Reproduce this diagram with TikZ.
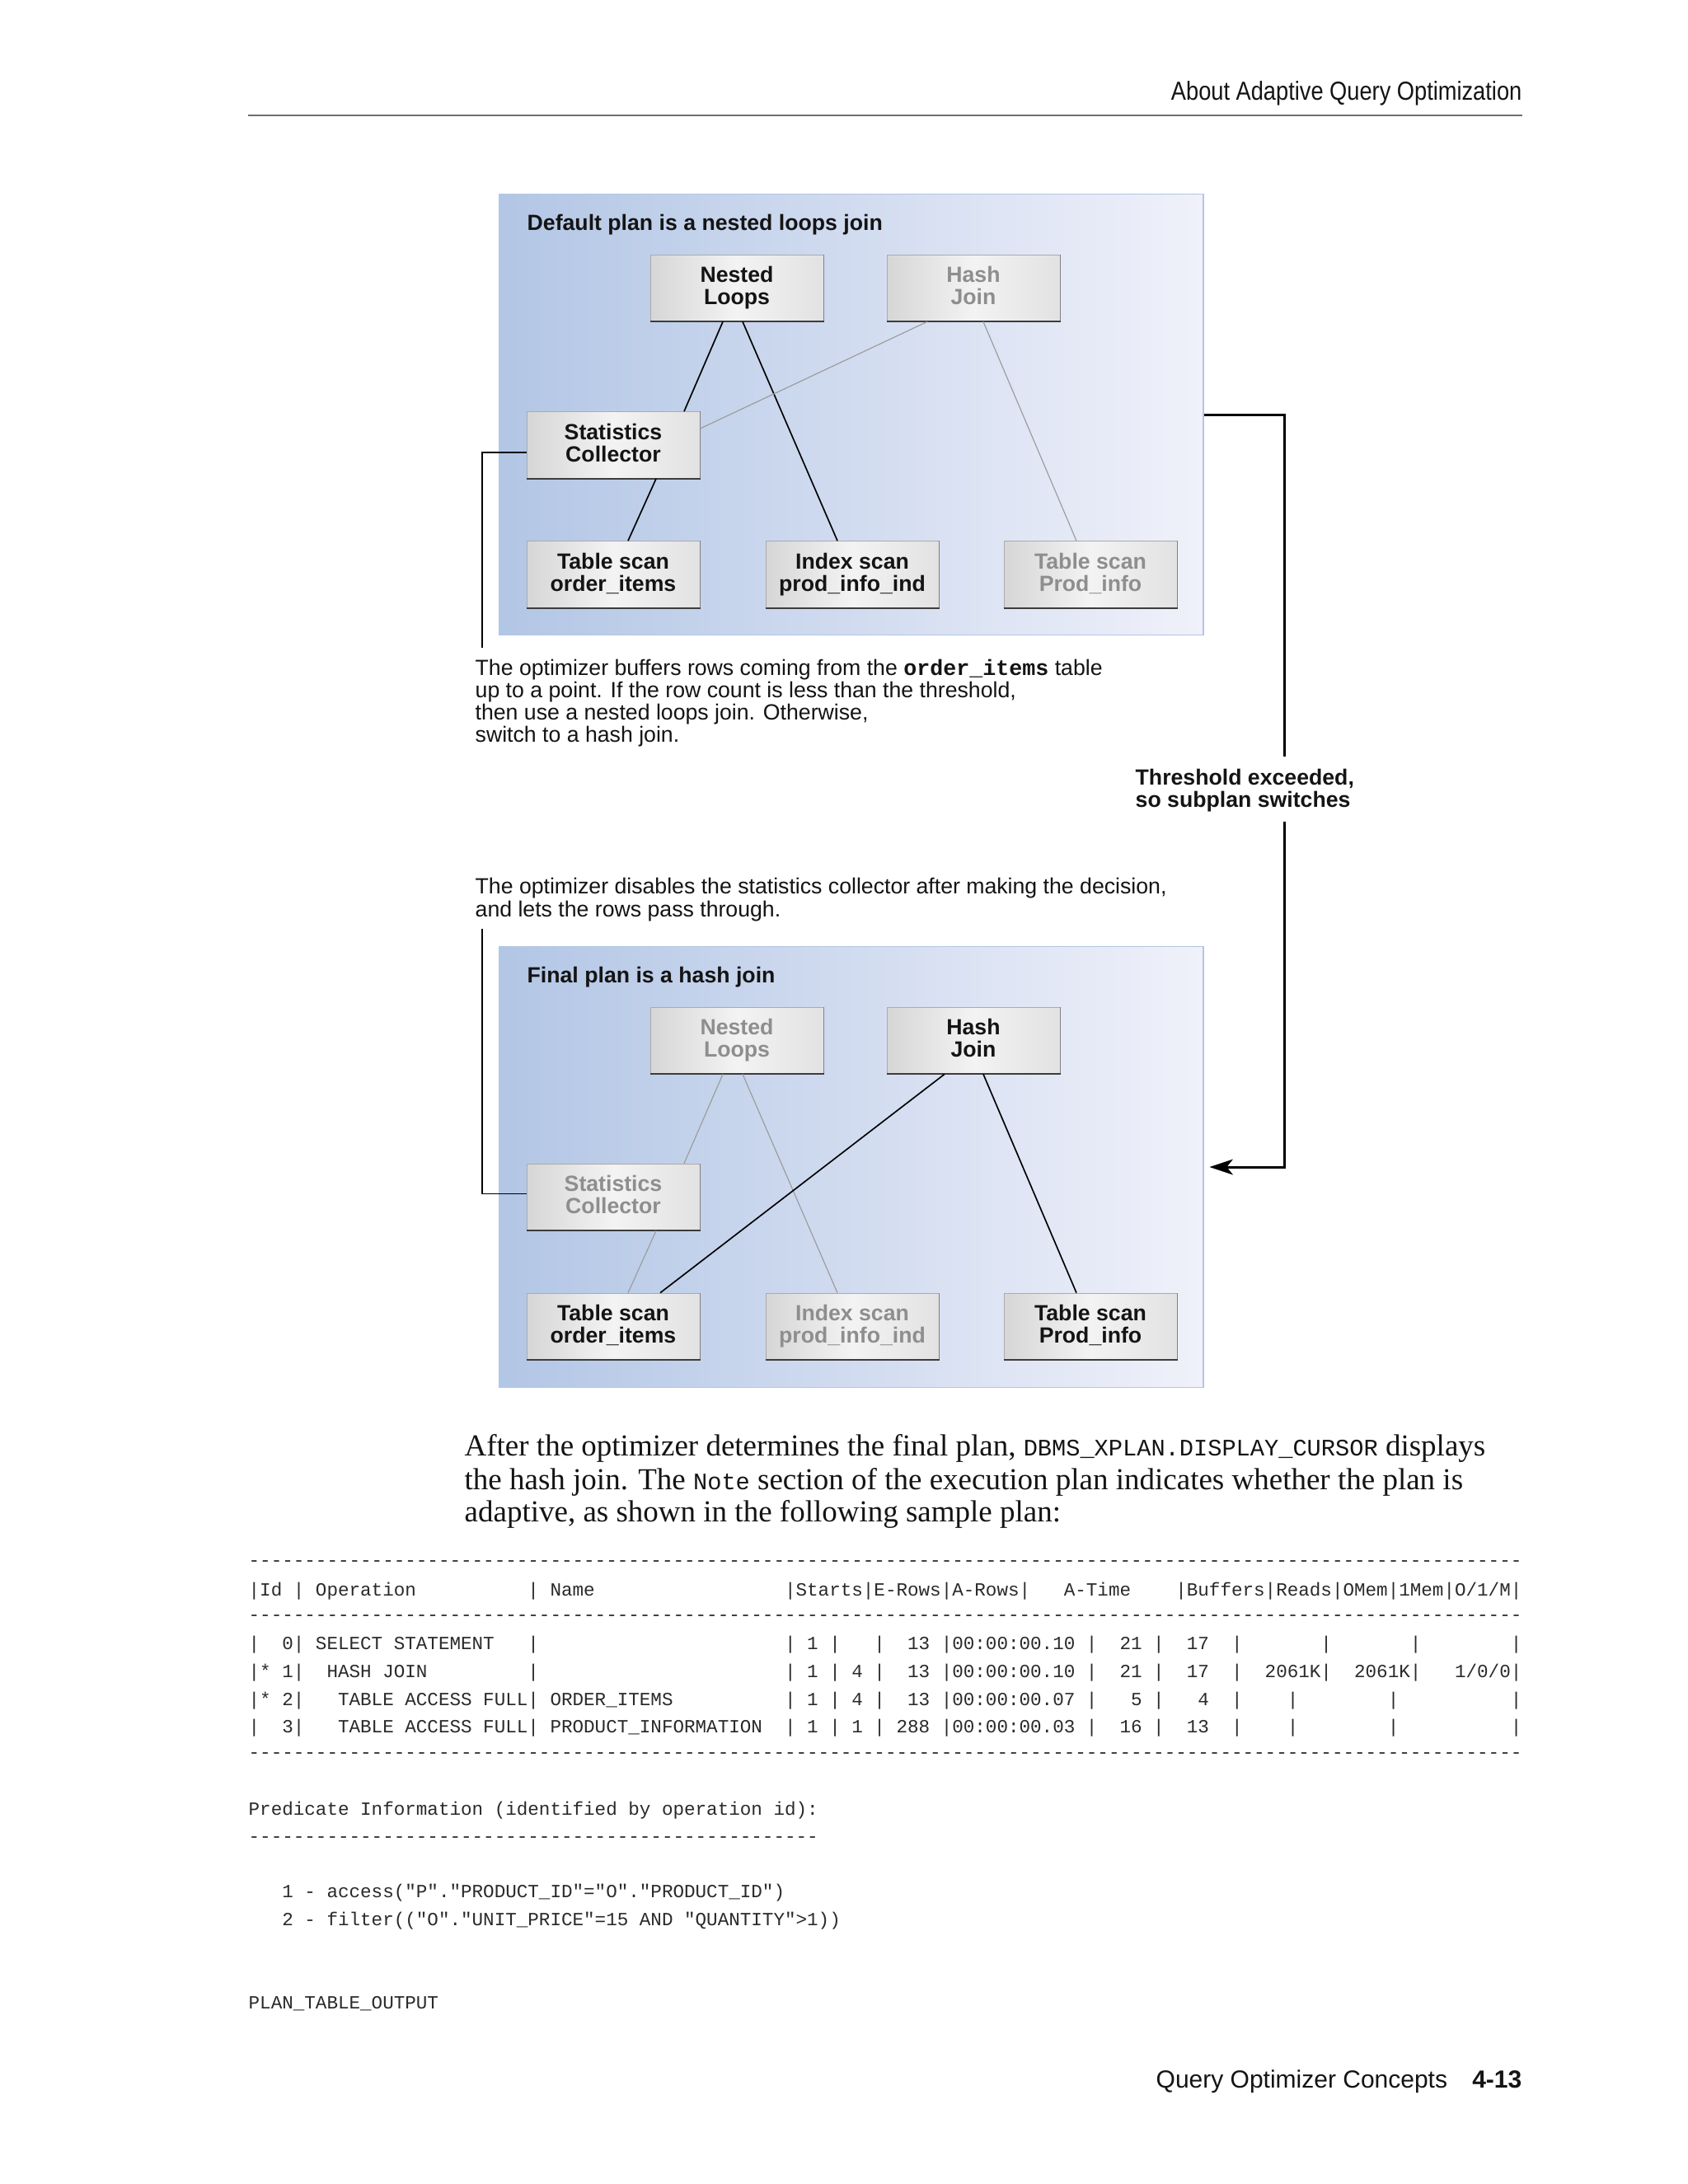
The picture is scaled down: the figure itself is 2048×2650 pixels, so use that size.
\documentclass[tikz,border=0pt]{standalone}
\usepackage{fontspec}
\setmainfont{Liberation Serif}
\newfontfamily\hsans{Liberation Sans}
\newfontfamily\hnarrow[FakeStretch=0.86]{Liberation Sans}
\newfontfamily\tmono{Liberation Mono}
\usetikzlibrary{arrows.meta,calc}
\definecolor{panelL}{HTML}{B2C6E5}
\definecolor{panelR}{HTML}{F0F1FA}
\definecolor{panelB}{HTML}{B3C6E4}
\definecolor{boxL}{HTML}{D6D6D6}
\definecolor{boxM}{HTML}{F3F3F3}
\definecolor{boxR}{HTML}{E2E2E2}
\definecolor{boxB}{HTML}{ABABAB}
\definecolor{boxE}{HTML}{3C3C3C}
\definecolor{boxRE}{HTML}{808080}
\definecolor{txtOn}{HTML}{141414}
\definecolor{txtOff}{HTML}{8E8E8E}
\definecolor{lineOff}{HTML}{9C9C9C}
\definecolor{ruleC}{HTML}{6E6E6E}
\definecolor{monoC}{HTML}{2A2A2A}
\newcommand\pmono[1]{{\tmono\fontsize{8.6}{12}\selectfont #1}}
\newcommand\dmono[1]{{\tmono\bfseries\fontsize{8}{8.1}\selectfont #1}}
\newcommand\bxl[2]{#1\vphantom{Jp}\\#2\vphantom{Jp}}
\newcommand\tabrow[3]{\foreach \cc/\tx in {#3} {\node[tab, name=#1-\cc] at ({301+\cc*13.55},#2) {\tx};}}
\newcommand\dashrow[3]{\node[tab, name=#1] at (301,#2) {\foreach \i in {1,...,#3}{-}};}
\begin{document}
\begin{tikzpicture}[x=0.3pt,y=-0.3pt,
  panel/.style={draw=panelB, line width=0.45pt, left color=panelL, right color=panelR,
    minimum width=256.2pt, minimum height=160.6pt, inner sep=0pt},
  pbox/.style={draw=boxB, line width=0.3pt, left color=boxL, right color=boxR, middle color=boxM,
    minimum width=63pt, minimum height=24.2pt, inner sep=0pt, align=center,
    font=\hsans\bfseries\fontsize{8}{8.1}\selectfont},
  on/.style={text=txtOn},
  off/.style={text=txtOff},
  lineon/.style={draw=black, line width=0.5pt},
  lineoff/.style={draw=lineOff, line width=0.35pt},
  brk/.style={draw=black, line width=0.5pt},
  brkR/.style={draw=black, line width=0.9pt},
  lbl/.style={inner sep=0pt, anchor=base west},
  dtext/.style={lbl, text=txtOn, font=\hsans\fontsize{8}{8.1}\selectfont},
  dtitle/.style={lbl, text=txtOn, font=\hsans\bfseries\fontsize{8}{8.1}\selectfont},
  tab/.style={lbl, text=monoC, font=\tmono\fontsize{6.775}{8}\selectfont},
  para/.style={lbl, text=txtOn, font=\fontsize{11.1}{12}\selectfont}
]
\fill[white] (0,0) rectangle (2048,2650);
\useasboundingbox (0,0) rectangle (2048,2650);

% page header
\node[lbl, anchor=base east, text=txtOn, font=\hnarrow\fontsize{9.5}{11}\selectfont] (hdr) at (1847,121) {About Adaptive Query Optimization};
\coordinate (ruleA) at (301,140);
\coordinate (ruleB) at (1847,140);
\draw[ruleC, line width=0.6pt] (ruleA) -- (ruleB);

% panels
\node[panel] (P1) at (1033,503) {};
\node[panel] (P2) at (1033,1416) {};
\node[dtitle] (T1) at (639,279) {Default plan is a nested loops join};
\node[dtitle] (T2) at (639,1192) {Final plan is a hash join};

% top plan boxes
\node[pbox, on]  (NL1)  at (894,349.5) {\bxl{Nested}{Loops}};
\node[pbox, off] (HJ1)  at (1181,349.5) {\bxl{Hash}{Join}};
\node[pbox, on]  (SC1)  at (744,540) {\bxl{Statistics}{Collector}};
\node[pbox, on]  (TSO1) at (744,697) {\bxl{Table scan}{order\_items}};
\node[pbox, on]  (IS1)  at (1034,697) {\bxl{Index scan}{prod\_info\_ind}};
\node[pbox, off] (TSP1) at (1323,697) {\bxl{Table scan}{Prod\_info}};

% bottom plan boxes
\node[pbox, off] (NL2)  at (894,1262.5) {\bxl{Nested}{Loops}};
\node[pbox, on]  (HJ2)  at (1181,1262.5) {\bxl{Hash}{Join}};
\node[pbox, off] (SC2)  at (744,1452.5) {\bxl{Statistics}{Collector}};
\node[pbox, on]  (TSO2) at (744,1609.5) {\bxl{Table scan}{order\_items}};
\node[pbox, off] (IS2)  at (1034,1609.5) {\bxl{Index scan}{prod\_info\_ind}};
\node[pbox, on]  (TSP2) at (1323,1609.5) {\bxl{Table scan}{Prod\_info}};

\foreach \n in {NL1,HJ1,SC1,TSO1,IS1,TSP1,NL2,HJ2,SC2,TSO2,IS2,TSP2}{
  \draw[boxRE, line width=0.4pt] (\n.south east) -- (\n.north east);
  \draw[boxE, line width=0.6pt] (\n.south west) -- (\n.south east);
}

% top plan connectors
\draw[lineon]  ($(NL1.south)+(-17,0)$) -- ($(SC1.north)+(86,0)$);
\draw[lineon]  ($(NL1.south)+(7,0)$) -- ($(IS1.north)+(-18,0)$);
\draw[lineoff] ($(HJ1.south)+(-56,0)$) -- ($(SC1.east)+(0,-20)$);
\draw[lineoff] ($(HJ1.south)+(12,0)$) -- ($(TSP1.north)+(-17,0)$);
\draw[lineon]  ($(SC1.south)+(52,0)$) -- ($(TSO1.north)+(18,0)$);

% bottom plan connectors
\draw[lineoff] ($(NL2.south)+(-17,0)$) -- ($(SC2.north)+(86,0)$);
\draw[lineoff] ($(NL2.south)+(7,0)$) -- ($(IS2.north)+(-18,0)$);
\draw[lineon]  ($(HJ2.south)+(-35,0)$) -- ($(TSO2.north)+(57,0)$);
\draw[lineon]  ($(HJ2.south)+(12,0)$) -- ($(TSP2.north)+(-17,0)$);
\draw[lineoff] ($(SC2.south)+(52,0)$) -- ($(TSO2.north)+(18,0)$);

% callouts
\coordinate (lb1) at (585,786);
\coordinate (lb2) at (585,1127);
\draw[brk] ($(SC1.west)+(0,9)$) -| (lb1);
\draw[brk] (lb2) |- ($(SC2.west)+(0,-4)$);

\node[dtext] (c1a) at (576,819) {The optimizer buffers rows coming from the \dmono{order\_items} table};
\node[dtext] (c1b) at (576,846) {up to a point. If the row count is less than the threshold,};
\node[dtext] (c1c) at (576,873) {then use a nested loops join. Otherwise,};
\node[dtext] (c1d) at (576,900) {switch to a hash join.};

\node[dtext] (c2a) at (576,1084) {The optimizer disables the statistics collector after making the decision,};
\node[dtext] (c2b) at (576,1112) {and lets the rows pass through.};

\node[dtitle] (thA) at (1377,952) {Threshold exceeded,};
\node[dtitle] (thB) at (1377,979) {so subplan switches};
\coordinate (rb1) at (1558,918);
\coordinate (rb2) at (1558,997);
\draw[brkR] (P1.east) -| (rb1);
\draw[brkR, -{Stealth[length=8.5pt,width=5.6pt,inset=2.2pt]}, shorten >=2pt] (rb2) |- (P2.east);

% body paragraph
\node[para] (pa) at (563,1766) {After the optimizer determines the final plan, \pmono{DBMS\_XPLAN.DISPLAY\_CURSOR} displays};
\node[para] (pb) at (563,1807) {the hash join. The \pmono{Note} section of the execution plan indicates whether the plan is};
\node[para] (pc) at (563,1846) {adaptive, as shown in the following sample plan:};

% plan table
\dashrow{d1}{1900}{114}
\tabrow{h}{1936}{0/|, 1/Id, 4/|, 6/Operation, 25/|, 27/Name, 48/|, 49/Starts, 55/|, 56/E-Rows, 62/|, 63/A-Rows, 69/|, 73/A-Time, 83/|, 84/Buffers, 91/|, 92/Reads, 97/|, 98/OMem, 102/|, 103/1Mem, 107/|, 108/{O/1/M}, 113/|}
\dashrow{d2}{1966}{114}
\tabrow{ra}{2001}{0/|, 3/0, 4/|, 6/SELECT STATEMENT, 25/|, 48/|, 50/1, 52/|, 56/|, 59/13, 62/|, 63/00:00:00.10, 75/|, 78/21, 81/|, 84/17, 88/|, 96/|, 104/|, 113/|}
\tabrow{rb}{2035}{0/|, 1/*, 3/1, 4/|, 7/HASH JOIN, 25/|, 48/|, 50/1, 52/|, 54/4, 56/|, 59/13, 62/|, 63/00:00:00.10, 75/|, 78/21, 81/|, 84/17, 88/|, 91/2061K, 96/|, 99/2061K, 104/|, 108/{1/0/0}, 113/|}
\tabrow{rc}{2069}{0/|, 1/*, 3/2, 4/|, 8/TABLE ACCESS FULL, 25/|, 27/ORDER\_ITEMS, 48/|, 50/1, 52/|, 54/4, 56/|, 59/13, 62/|, 63/00:00:00.07, 75/|, 79/5, 81/|, 85/4, 88/|, 93/|, 102/|, 113/|}
\tabrow{rd}{2102}{0/|, 3/3, 4/|, 8/TABLE ACCESS FULL, 25/|, 27/PRODUCT\_INFORMATION, 48/|, 50/1, 52/|, 54/1, 56/|, 58/288, 62/|, 63/00:00:00.03, 75/|, 78/16, 81/|, 84/13, 88/|, 93/|, 102/|, 113/|}
\dashrow{d3}{2133}{114}

\node[tab] (pr) at (301,2202) {Predicate Information (identified by operation id):};
\dashrow{d4}{2235}{51}
\node[tab] (pr1) at ({301+3*13.55},2302) {1 - access("P"."PRODUCT\_ID"="O"."PRODUCT\_ID")};
\node[tab] (pr2) at ({301+3*13.55},2336) {2 - filter(("O"."UNIT\_PRICE"=15 AND "QUANTITY">1))};
\node[tab] (pto) at (301,2437) {PLAN\_TABLE\_OUTPUT};

% page footer
\node[lbl, anchor=base east, text=txtOn, font=\hsans\bfseries\fontsize{9}{11}\selectfont] (pg) at (1847,2533) {4-13};
\node[lbl, text=txtOn, font=\hsans\fontsize{9}{11}\selectfont] (ftr) at (1402,2533) {Query Optimizer Concepts};
\end{tikzpicture}
\end{document}
